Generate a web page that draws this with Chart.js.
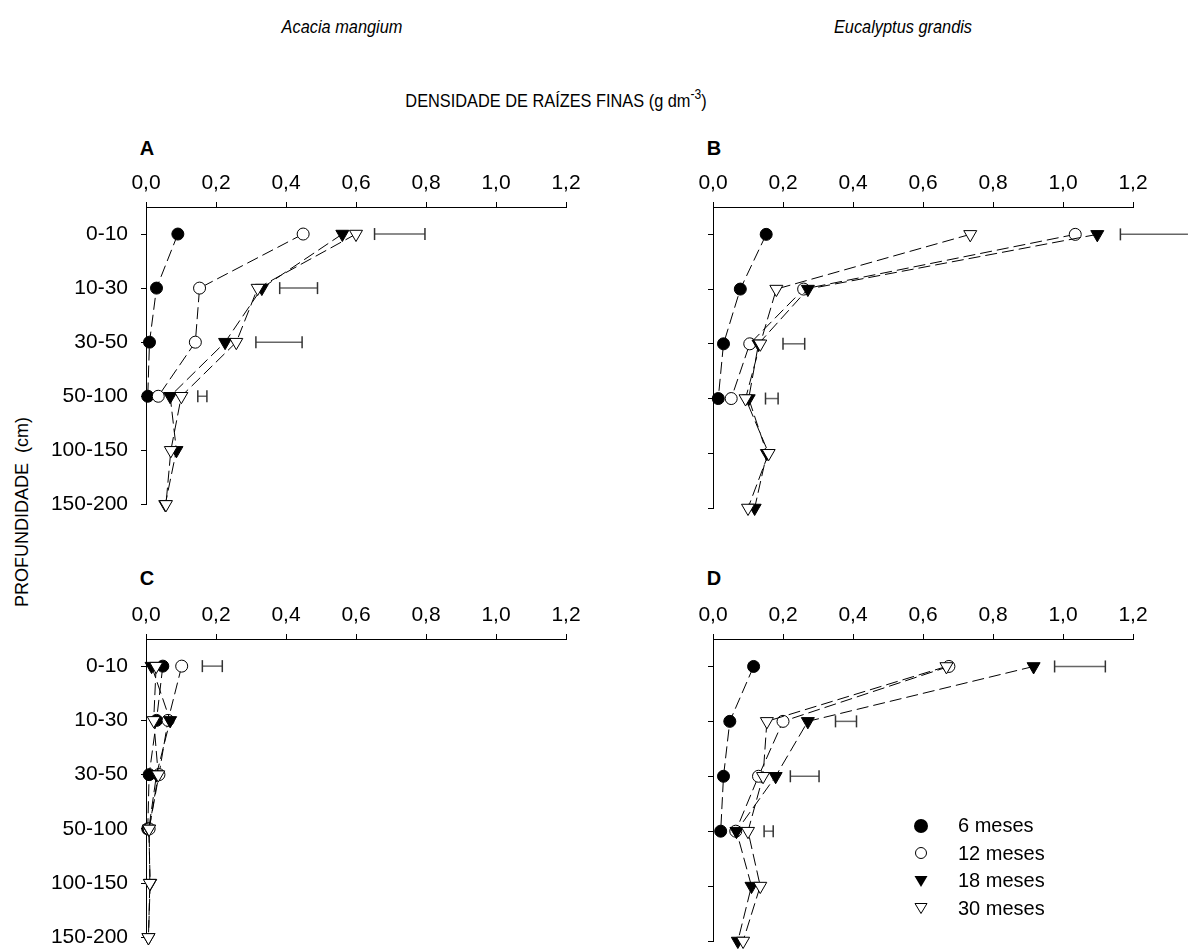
<!DOCTYPE html>
<html>
<head>
<meta charset="utf-8">
<script src="https://cdn.jsdelivr.net/npm/chart.js"></script>
<style>
  body { margin: 0; background: #fff; }
  #page { position: relative; width: 1194px; height: 951px; overflow: hidden; font-family: "Liberation Sans", Arial, sans-serif; color: #000; }
  canvas { position: absolute; }
  .txt { position: absolute; white-space: nowrap; transform: translate(-50%, -50%); }
  .cond { transform: translate(-50%, -50%) scaleX(0.86); }
  .title { font-size: 19px; font-style: italic; }
  .letter { font-size: 20px; font-weight: bold; }
  .legend { position: absolute; left: 912px; top: 812px; font-size: 20px; line-height: 27.5px; }
  .legend div { display: flex; align-items: center; height: 27.5px; }
  .legend svg { width: 18px; height: 18px; margin-right: 28px; }
</style>
</head>
<body>
<div id="page">
  <div class="txt title cond" style="left:342px; top:27px;">Acacia mangium</div>
  <div class="txt title cond" style="left:903px; top:27px;">Eucalyptus grandis</div>
  <div class="txt cond" style="left:556px; top:99px; font-size:19px;">DENSIDADE DE RAÍZES FINAS (g dm<sup style="font-size:14px;">-3</sup>)</div>
  <div class="txt" style="left:22px; top:512px; font-size:18px; transform: translate(-50%, -50%) rotate(-90deg);">PROFUNDIDADE&nbsp; (cm)</div>
  <div class="txt letter" style="left:147px; top:148px;">A</div>
  <div class="txt letter" style="left:714px; top:148px;">B</div>
  <div class="txt letter" style="left:147px; top:578px;">C</div>
  <div class="txt letter" style="left:714px; top:578px;">D</div>

  <canvas id="chartA" width="560" height="400" style="left:40px; top:130px;"></canvas>
  <canvas id="chartB" width="534" height="400" style="left:660px; top:130px;"></canvas>
  <canvas id="chartC" width="560" height="400" style="left:40px; top:563px;"></canvas>
  <canvas id="chartD" width="534" height="400" style="left:660px; top:563px;"></canvas>

  <div class="legend">
    <div><svg viewBox="0 0 18 18"><circle cx="9" cy="9" r="7" fill="#000"/></svg>6 meses</div>
    <div><svg viewBox="0 0 18 18"><circle cx="9" cy="9" r="5.5" fill="#fff" stroke="#000" stroke-width="1"/></svg>12 meses</div>
    <div><svg viewBox="0 0 18 18"><polygon points="2.5,4 15.5,4 9,15" fill="#000"/></svg>18 meses</div>
    <div><svg viewBox="0 0 18 18"><polygon points="3,4.5 15,4.5 9,14.5" fill="#fff" stroke="#000" stroke-width="1"/></svg>30 meses</div>
  </div>
</div>

<script>
// depth classes (cm), one row each on the y axis
const depths = ["0-10", "10-30", "30-50", "50-100", "100-150", "150-200"];
const xTickValues = [0, 0.2, 0.4, 0.6, 0.8, 1.0, 1.2];
const seriesNames = ["6 meses", "12 meses", "18 meses", "30 meses"];

// A - Acacia mangium (top)
const a6 = [0.091, 0.030, 0.010, 0.005];
const a12 = [0.449, 0.153, 0.141, 0.035];
const a18 = [0.561, 0.331, 0.226, 0.069, 0.087, 0.055];
const a30 = [0.600, 0.319, 0.258, 0.101, 0.071, 0.057];
const aLsdLow = [0.653, 0.382, 0.314, 0.148];
const aLsdHigh = [0.797, 0.490, 0.446, 0.174];

// B - Eucalyptus grandis (top)
const b6 = [0.152, 0.078, 0.030, 0.015];
const b12 = [1.035, 0.259, 0.105, 0.052];
const b18 = [1.098, 0.271, 0.130, 0.102, 0.154, 0.119];
const b30 = [0.735, 0.181, 0.135, 0.093, 0.159, 0.100];
const bLsdLow = [1.164, null, 0.200, 0.150];
const bLsdHigh = [1.357, null, 0.262, 0.186];

// C - Acacia mangium (bottom)
const c6 = [0.048, 0.030, 0.009, 0.005];
const c12 = [0.102, 0.063, 0.037, 0.009];
const c18 = [0.016, 0.069, 0.030, 0.008, 0.012, 0.007];
const c30 = [0.029, 0.022, 0.035, 0.009, 0.011, 0.007];
const cLsdLow = [0.161];
const cLsdHigh = [0.218];

// D - Eucalyptus grandis (bottom)
const d6 = [0.116, 0.048, 0.030, 0.022];
const d12 = [0.674, 0.200, 0.130, 0.065];
const d18 = [0.916, 0.271, 0.179, 0.067, 0.110, 0.071];
const d30 = [0.667, 0.154, 0.143, 0.100, 0.135, 0.086];
const dLsdLow = [0.976, 0.350, 0.221, 0.146];
const dLsdHigh = [1.121, 0.410, 0.303, 0.172];

const toPoints = (arr) => arr.map((v, i) => ({ x: v, y: i + 1 }));

// marker look per series: filled circle, open circle, filled / open down triangle
const markerStyles = [
    { pointStyle: "circle", pointRadius: 6, pointBackgroundColor: "#000", pointRotation: 0 },
    { pointStyle: "circle", pointRadius: 6, pointBackgroundColor: "#fff", pointRotation: 0 },
    { pointStyle: "triangle", pointRadius: 7.5, pointBackgroundColor: "#000", pointRotation: 180 },
    { pointStyle: "triangle", pointRadius: 7.5, pointBackgroundColor: "#fff", pointRotation: 180 },
];

function makePanel(id, series, lsdLow, lsdHigh, opts) {
    const datasets = series.map((vals, k) => ({
        label: seriesNames[k],
        data: toPoints(vals),
        showLine: true,
        borderColor: "#000",
        borderWidth: 1,
        borderDash: [12, 5],
        pointBorderColor: "#000",
        pointBorderWidth: 1,
        order: 3 - k, // 30 meses drawn on top
        clip: false,
        ...markerStyles[k],
    }));

    // LSD bars to the right of each depth
    lsdLow.forEach((lo, i) => {
        if (lo == null) return;
        datasets.push({
            label: "lsd" + i,
            data: [{ x: lo, y: i + 1 }, { x: lsdHigh[i], y: i + 1 }],
            showLine: true,
            borderColor: "#666",
            borderWidth: 1.5,
            pointStyle: "line",
            pointRotation: 90,
            pointRadius: 6,
            pointBorderColor: "#333",
            pointBorderWidth: 1.5,
            order: 10,
            clip: false,
        });
    });

    new Chart(document.getElementById(id), {
        type: "scatter",
        data: { datasets },
        options: {
            responsive: false,
            animation: false,
            events: [],
            layout: { padding: { top: 0, left: 0, right: opts.padRight, bottom: opts.padBottom } },
            plugins: { legend: { display: false }, tooltip: { enabled: false } },
            scales: {
                x: {
                    type: "linear",
                    position: "top",
                    min: 0,
                    max: 1.2,
                    afterBuildTicks: (scale) => { scale.ticks = xTickValues.map((v) => ({ value: v })); },
                    afterFit: (scale) => { scale.height = opts.xHeight; },
                    ticks: {
                        color: "#000",
                        padding: 6,
                        maxRotation: 0,
                        font: { family: "Liberation Sans", size: 21 },
                        callback: (v) => v.toFixed(1).replace(".", ","),
                    },
                    grid: { drawOnChartArea: false, drawTicks: true, tickLength: 5, color: "#000" },
                    border: { display: true, color: "#000", width: 1 },
                },
                y: {
                    type: "linear",
                    reverse: true,
                    min: 0.5,
                    max: 6,
                    afterBuildTicks: (scale) => { scale.ticks = depths.map((d, i) => ({ value: i + 1 })); },
                    afterFit: (scale) => { scale.width = opts.yWidth; },
                    ticks: {
                        display: opts.yLabels,
                        color: "#000",
                        padding: 13,
                        font: { family: "Liberation Sans", size: 21 },
                        callback: (v) => depths[Math.round(v) - 1],
                    },
                    grid: { drawOnChartArea: false, drawTicks: true, tickLength: 5, color: "#000" },
                    border: { display: true, color: "#000", width: 1 },
                },
            },
        },
    });
}

makePanel("chartA", [a6, a12, a18, a30], aLsdLow, aLsdHigh, { yLabels: true, yWidth: 106, xHeight: 77, padRight: 34, padBottom: 22 });
makePanel("chartB", [b6, b12, b18, b30], bLsdLow, bLsdHigh, { yLabels: false, yWidth: 53, xHeight: 77, padRight: 61, padBottom: 22 });
makePanel("chartC", [c6, c12, c18, c30], cLsdLow, cLsdHigh, { yLabels: true, yWidth: 106, xHeight: 76, padRight: 34, padBottom: 22 });
makePanel("chartD", [d6, d12, d18, d30], dLsdLow, dLsdHigh, { yLabels: false, yWidth: 53, xHeight: 76, padRight: 61, padBottom: 22 });
</script>
</body>
</html>
